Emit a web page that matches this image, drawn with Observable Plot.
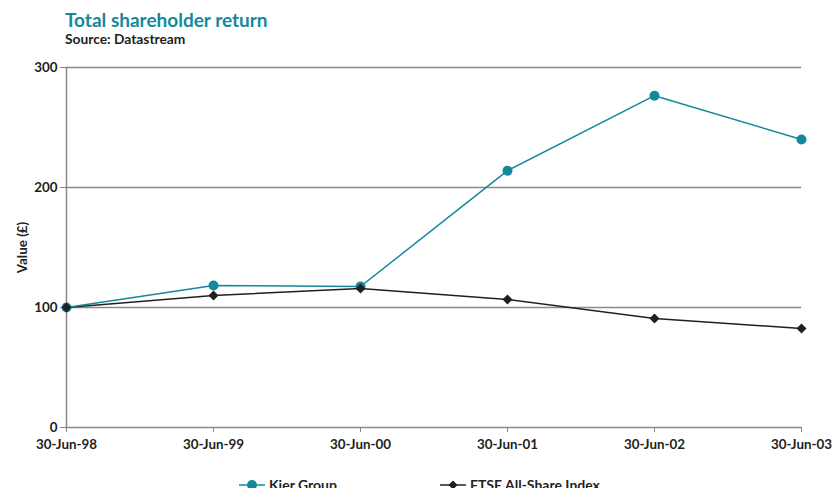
<!DOCTYPE html>
<html>
<head>
<meta charset="utf-8">
<script src="https://cdn.jsdelivr.net/npm/d3@7"></script>
<script src="https://cdn.jsdelivr.net/npm/@observablehq/plot@0.6"></script>
<style>
  body { margin: 0; background: #fff; font-family: Lato, "Open Sans", sans-serif; width: 834px; height: 488px; overflow: hidden; }
  .title { padding-left: 65px; margin-top: 9px; font-size: 19px; font-weight: 700; color: #13899b; line-height: 22px; }
  .subtitle { padding-left: 65px; font-size: 13.8px; font-weight: 700; color: #231f20; line-height: 16px; }
  #chart svg text { font-weight: 700; fill: #231f20; }
  .legend { position: relative; height: 20px; font-size: 14px; font-weight: 700; color: #231f20; }
  .legend .item { position: absolute; top: 4px; display: flex; align-items: center; }
  .legend svg { margin-right: 4px; }
</style>
</head>
<body>
<div class="title">Total shareholder return</div>
<div class="subtitle">Source: Datastream</div>
<div id="chart"></div>
<div class="legend" id="legend"></div>
<script>
const dates = ["30-Jun-98", "30-Jun-99", "30-Jun-00", "30-Jun-01", "30-Jun-02", "30-Jun-03"];
const kier = [100, 118.3, 117.5, 214, 276.5, 240];
const ftse = [100, 110, 115.8, 106.7, 90.8, 82.5];
const yTicks = [0, 100, 200, 300];
const seriesNames = ["Kier Group", "FTSE All-Share Index"];
const teal = "#13899b";
const dark = "#231f20";

const kierData = dates.map((d, i) => ({date: d, value: kier[i]}));
const ftseData = dates.map((d, i) => ({date: d, value: ftse[i]}));

const plot = Plot.plot({
  width: 834,
  height: 425,
  marginLeft: 65,
  marginRight: 33,
  marginTop: 20,
  marginBottom: 45,
  style: {fontFamily: "Lato, 'Open Sans', sans-serif", fontSize: "13.4px", fontWeight: 700, color: dark, background: "#fff"},
  x: {type: "point", domain: dates, padding: 0},
  y: {domain: [0, 300]},
  marks: [
    Plot.ruleY(yTicks.filter(d => d > 0), {stroke: "#8a8a8c", strokeWidth: 1.5, strokeOpacity: 1}),
    Plot.ruleY([0], {stroke: "#8a8a8c", strokeWidth: 1.5}),
    Plot.ruleX([dates[0]], {y1: 0, y2: 300, stroke: "#8a8a8c", strokeWidth: 1.5}),
    Plot.axisX({ticks: dates, tickSize: 5, tickPadding: 7, stroke: "#8a8a8c", label: null, fontSize: 13.4, fontWeight: 700}),
    Plot.axisY({ticks: yTicks, tickSize: 5, tickPadding: 3, stroke: "#8a8a8c", label: "Value (£)", labelAnchor: "center", labelOffset: 48, labelArrow: false, fontSize: 13.4, fontWeight: 700}),
    Plot.line(ftseData, {x: "date", y: "value", stroke: dark, strokeWidth: 1.5}),
    Plot.line(kierData, {x: "date", y: "value", stroke: teal, strokeWidth: 1.5}),
    Plot.dot(kierData, {x: "date", y: "value", fill: teal, r: 5, stroke: null}),
    Plot.dot(ftseData, {x: "date", y: "value", fill: dark, symbol: "diamond2", r: 4.5, stroke: null})
  ]
});
document.getElementById("chart").appendChild(plot);

const legend = document.getElementById("legend");
const items = [
  {name: seriesNames[0], color: teal, left: 239, marker: '<circle cx="13" cy="6" r="5" fill="' + teal + '"/>'},
  {name: seriesNames[1], color: dark, left: 440, marker: '<path d="M13 1.5 L17.5 6 L13 10.5 L8.5 6 Z" fill="' + dark + '"/>'}
];
items.forEach(it => {
  const div = document.createElement("div");
  div.className = "item";
  div.style.left = it.left + "px";
  div.innerHTML = '<svg width="26" height="12"><line x1="0" y1="6" x2="26" y2="6" stroke="' + it.color + '" stroke-width="1.5"/>' + it.marker + '</svg><span>' + it.name + '</span>';
  legend.appendChild(div);
});
</script>
</body>
</html>
